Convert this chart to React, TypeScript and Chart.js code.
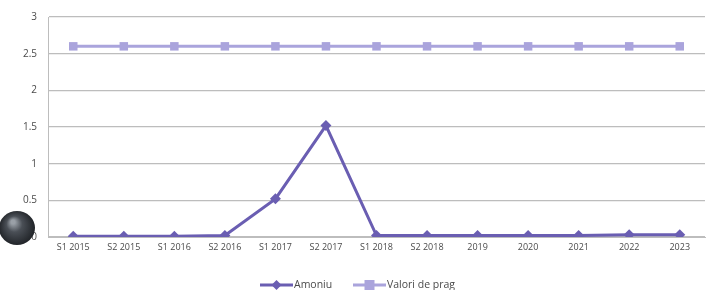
import React, { useEffect, useRef } from "react";
import { Chart, registerables } from "chart.js";

Chart.register(...registerables);

const categories = [
  "S1 2015", "S2 2015", "S1 2016", "S2 2016", "S1 2017", "S2 2017",
  "S1 2018", "S2 2018", "2019", "2020", "2021", "2022", "2023",
];
const amoniu = [0.01, 0.01, 0.01, 0.02, 0.52, 1.52, 0.02, 0.02, 0.02, 0.02, 0.02, 0.03, 0.03];
const valoriPrag = [2.6, 2.6, 2.6, 2.6, 2.6, 2.6, 2.6, 2.6, 2.6, 2.6, 2.6, 2.6, 2.6];
const yTicks = [0, 0.5, 1, 1.5, 2, 2.5, 3];

const AMONIU_COLOR = "#6a5eb2";
const PRAG_COLOR = "#aaa4dc";

const legendPlugin = {
  id: "customLegend",
  afterDraw(chart: any) {
    const ctx = chart.ctx;
    const y = 285;
    const items = [
      { label: "Amoniu", color: AMONIU_COLOR, style: "diamond", x0: 260, x1: 293, lw: 3 },
      { label: "Valori de prag", color: PRAG_COLOR, style: "square", x0: 353, x1: 386, lw: 3 },
    ];
    ctx.save();
    for (const it of items) {
      ctx.strokeStyle = it.color;
      ctx.lineWidth = it.lw;
      ctx.beginPath();
      ctx.moveTo(it.x0, y);
      ctx.lineTo(it.x1, y);
      ctx.stroke();
      const cx = (it.x0 + it.x1) / 2;
      ctx.fillStyle = it.color;
      ctx.beginPath();
      if (it.style === "diamond") {
        ctx.moveTo(cx, y - 5);
        ctx.lineTo(cx + 5, y);
        ctx.lineTo(cx, y + 5);
        ctx.lineTo(cx - 5, y);
        ctx.closePath();
      } else {
        ctx.rect(cx - 5, y - 5, 10, 10);
      }
      ctx.fill();
      ctx.fillStyle = "#4a4a4a";
      ctx.font = "10.5px 'Open Sans'";
      ctx.textBaseline = "middle";
      ctx.textAlign = "left";
      ctx.fillText(it.label, it.x1 + 1, y);
    }
    // photo artifact (dark blob) at the lower left
    const g = ctx.createRadialGradient(13, 222, 2, 17, 228, 19);
    g.addColorStop(0, "#9aa0a7");
    g.addColorStop(0.35, "#4a4f56");
    g.addColorStop(1, "#1c1f23");
    ctx.fillStyle = g;
    ctx.beginPath();
    ctx.ellipse(17, 228, 18, 17, 0, 0, Math.PI * 2);
    ctx.fill();
    ctx.restore();
  },
};

export default function App() {
  const ref = useRef<HTMLCanvasElement | null>(null);
  useEffect(() => {
    if (!ref.current) return;
    const chart = new Chart(ref.current, {
      type: "line",
      data: {
        labels: categories,
        datasets: [
          {
            label: "Amoniu",
            data: amoniu,
            borderColor: AMONIU_COLOR,
            backgroundColor: AMONIU_COLOR,
            borderWidth: 3,
            pointStyle: "rectRot",
            pointRadius: 5.5,
            pointBorderWidth: 0,
            tension: 0,
          },
          {
            label: "Valori de prag",
            data: valoriPrag,
            borderColor: PRAG_COLOR,
            backgroundColor: PRAG_COLOR,
            borderWidth: 3,
            pointStyle: "rect",
            pointRadius: 6,
            pointBorderWidth: 0,
            tension: 0,
          },
        ],
      },
      options: {
        animation: false,
        responsive: false,
        layout: { padding: { top: 14, right: 3, bottom: 33, left: 0 } },
        plugins: { legend: { display: false }, tooltip: { enabled: false } },
        scales: {
          x: {
            offset: true,
            grid: { display: false, drawTicks: false },
            border: { display: true, color: "#bdbdbd", width: 1 },
            ticks: {
              color: "#4a4a4a",
              font: { family: "'Open Sans'", size: 9 },
              maxRotation: 0,
              autoSkip: false,
              padding: 5,
            },
            afterFit: (s: any) => { s.height = 20; },
          },
          y: {
            min: 0,
            max: 3,
            afterBuildTicks: (s: any) => { s.ticks = yTicks.map((v) => ({ value: v })); },
            grid: { color: "#bdbdbd", lineWidth: 1.3, drawTicks: false },
            border: { display: true, color: "#bdbdbd", width: 1 },
            ticks: {
              color: "#4a4a4a",
              font: { family: "'Open Sans'", size: 10 },
              padding: 11,
              callback: (v: any) => String(v),
            },
            afterFit: (s: any) => { s.width = 48; },
          },
        },
      },
      plugins: [legendPlugin],
    });
    return () => chart.destroy();
  }, []);
  return (
    <div style={{ position: "fixed", left: 0, top: 0, width: 711, height: 290, background: "#fff" }}>
      <canvas ref={ref} width={711} height={290} style={{ display: "block" }} />
    </div>
  );
}
